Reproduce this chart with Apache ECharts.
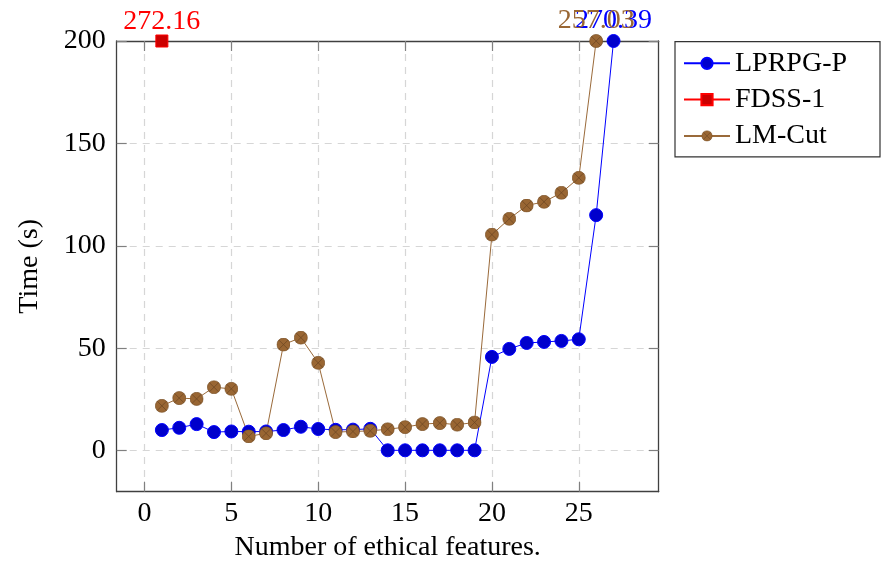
<!DOCTYPE html>
<html>
<head>
<meta charset="utf-8">
<script src="https://cdn.jsdelivr.net/npm/echarts@6/dist/echarts.min.js"></script>
<style>
html,body{margin:0;padding:0;background:#fff;}
#chart{width:882px;height:568px;}
</style>
</head>
<body>
<div id="chart"></div>
<script>
// ---- data ----
const features = [1,2,3,4,5,6,7,8,9,10,11,12,13,14,15,16,17,18,19,20,21,22,23,24,25,26,27];
const lprpgP = [10.1,11.2,13.0,9.1,9.4,9.3,9.4,10.1,11.7,10.6,10.2,10.3,10.7,0.2,0.2,0.2,0.2,0.2,0.2,45.8,49.7,52.6,53.1,53.6,54.4,115.0,270.39];
const fdssX = [1];
const fdss1 = [272.16];
const lmCutX = [1,2,3,4,5,6,7,8,9,10,11,12,13,14,15,16,17,18,19,20,21,22,23,24,25,26];
const lmCut = [21.9,25.7,25.3,31.0,30.2,7.0,8.5,51.8,55.2,42.9,9.1,9.4,9.7,10.5,11.5,13.0,13.5,12.7,13.8,105.5,113.2,119.7,121.5,125.9,133.2,257.03];
const xTicks = [0,5,10,15,20,25];
const yTicks = [0,50,100,150,200];
const yCap = 200;

const FONT = 'Liberation Serif';
const FS = 28;

function pts(xs, ys, color) {
  return xs.map((x, i) => {
    const v = ys[i];
    const over = v > yCap;
    return {
      value: [x, over ? yCap : v],
      label: { show: over, formatter: v.toFixed(2), color: color }
    };
  });
}

const brownSym = 'image://data:image/svg+xml;utf8,' + encodeURIComponent(
  "<svg xmlns='http://www.w3.org/2000/svg' width='26' height='26' viewBox='0 0 26 26'>" +
  "<circle cx='13' cy='13' r='12.2' fill='#996633' stroke='#7a5228' stroke-width='1.3'/>" +
  "<path d='M4.4 4.4L21.6 21.6M21.6 4.4L4.4 21.6' stroke='#6a4522' stroke-width='1.3'/></svg>");

const gridLine = { show: true, lineStyle: { color: '#d6d6d6', width: 1.2, type: [7, 6] } };
const axisLineStyle = { show: true, onZero: false, lineStyle: { color: '#404040', width: 1.3 } };
const tickStyle = { show: true, inside: true, length: 10, lineStyle: { color: '#808080', width: 1.2 } };

const chart = echarts.init(document.getElementById('chart'), null, { renderer: 'canvas' });
chart.setOption({
  animation: false,
  backgroundColor: '#fff',
  textStyle: { fontFamily: FONT },
  grid: { left: 116.7, right: 223.3, top: 41, bottom: 76.3, containLabel: false },
  legend: {
    orient: 'vertical',
    left: 675, top: 41.7,
    padding: [7.6, 13, 7, 8],
    itemGap: 8.3,
    itemWidth: 46, itemHeight: 14,
    borderColor: '#333', borderWidth: 1.2, backgroundColor: '#fff',
    textStyle: { fontFamily: FONT, fontSize: FS, color: '#000', width: 132, lineHeight: 28 },
    data: ['LPRPG-P', 'FDSS-1', 'LM-Cut']
  },
  xAxis: [{
    type: 'value', min: -1.6, max: 29.6,
    name: 'Number of ethical features.', nameLocation: 'middle', nameGap: 42,
    nameTextStyle: { fontFamily: FONT, fontSize: FS, color: '#000' },
    axisLine: axisLineStyle,
    axisTick: Object.assign({}, tickStyle, { customValues: xTicks }),
    axisLabel: { customValues: xTicks, margin: 8, fontFamily: FONT, fontSize: FS, color: '#000' },
    splitLine: gridLine
  }, {
    type: 'value', min: -1.6, max: 29.6, position: 'top',
    axisLine: axisLineStyle,
    axisTick: Object.assign({}, tickStyle, { customValues: xTicks }),
    axisLabel: { show: false, customValues: xTicks },
    splitLine: { show: false }
  }],
  yAxis: [{
    type: 'value', min: -20, max: 200,
    name: 'Time (s)', nameLocation: 'middle', nameGap: 73,
    nameTextStyle: { fontFamily: FONT, fontSize: FS, color: '#000' },
    axisLine: axisLineStyle,
    axisTick: Object.assign({}, tickStyle, { customValues: yTicks }),
    axisLabel: { customValues: yTicks, margin: 11, fontFamily: FONT, fontSize: FS, color: '#000' },
    splitLine: gridLine
  }, {
    type: 'value', min: -20, max: 200, position: 'right',
    axisLine: axisLineStyle,
    axisTick: Object.assign({}, tickStyle, { customValues: yTicks }),
    axisLabel: { show: false, customValues: yTicks },
    splitLine: { show: false }
  }],
  series: [{
    name: 'LPRPG-P', type: 'line', clip: false,
    data: pts(features, lprpgP, '#0000ff'),
    symbol: 'circle', symbolSize: 13,
    lineStyle: { color: '#0000ff', width: 1 },
    itemStyle: { color: '#0000cc', borderColor: '#0000ff', borderWidth: 1 },
    label: { position: 'top', distance: -1, fontFamily: FONT, fontSize: FS },
    z: 3
  }, {
    name: 'FDSS-1', type: 'line', clip: false,
    data: pts(fdssX, fdss1, '#ff0000'),
    symbol: 'rect', symbolSize: 12,
    lineStyle: { color: '#ff0000', width: 1 },
    itemStyle: { color: '#cc0000', borderColor: '#ff0000', borderWidth: 1 },
    label: { position: 'top', distance: -1, fontFamily: FONT, fontSize: FS },
    z: 3
  }, {
    name: 'LM-Cut', type: 'line', clip: false,
    data: pts(lmCutX, lmCut, '#996633'),
    symbol: brownSym, symbolSize: 14,
    lineStyle: { color: '#9a6a3a', width: 1 },
    itemStyle: { color: '#996633' },
    label: { position: 'top', distance: -1, fontFamily: FONT, fontSize: FS },
    z: 3
  }]
});
</script>
</body>
</html>
